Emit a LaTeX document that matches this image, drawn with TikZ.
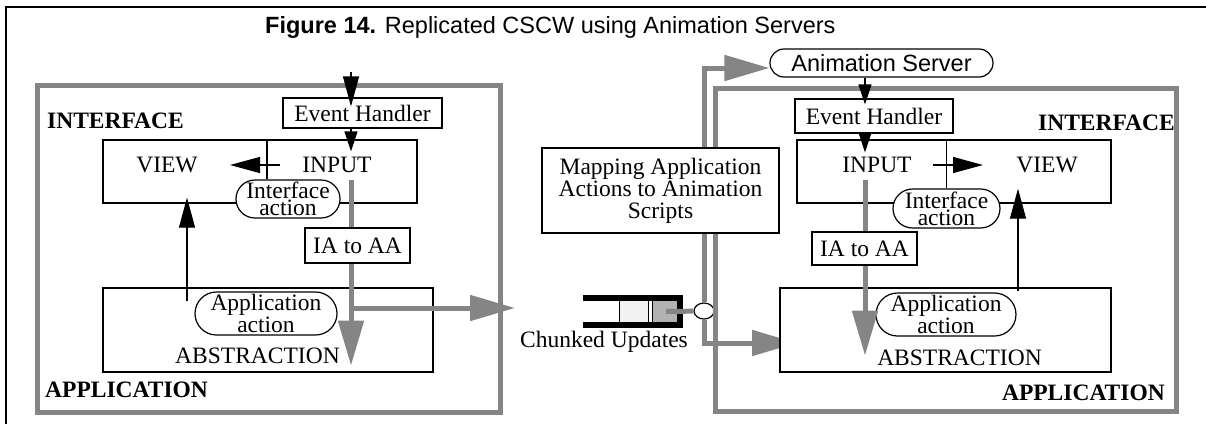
\documentclass[tikz,border=0pt]{standalone}
\usepackage{fontspec}
\setmainfont{Liberation Serif}
\setsansfont{Liberation Sans}
\usetikzlibrary{arrows.meta,calc,shapes.misc,shapes.geometric}
\definecolor{framegray}{RGB}{133,133,133}
\definecolor{celllight}{RGB}{242,242,242}
\definecolor{celldark}{RGB}{178,178,178}

\tikzset{
  txt/.style={font=\fontsize{23.5}{22}\selectfont, inner sep=0pt},
  box/.style={txt, draw, line width=1.2pt, fill=white},
  oval/.style={box, rounded rectangle, align=center, font=\fontsize{23.5}{17}\selectfont},
  heading/.style={txt, font=\fontsize{23.5}{22}\selectfont\bfseries},
  link/.style={line width=1.2pt},
  siteframe/.style={draw=framegray, line width=5pt},
  grayline/.style={draw=framegray, line width=5pt},
  feed/.style={grayline, -{Triangle[length=45pt,width=25pt]}},
  ctrl/.style={link, -{Triangle[length=30pt,width=16pt]}},
  ctrlsmall/.style={link, -{Triangle[length=20pt,width=13pt]}},
}

\begin{document}
\begin{tikzpicture}[x=1pt,y=-1pt]
\useasboundingbox (0,0) rectangle (1206,424);
\draw[link] (6,424) -- (6,7) -- (1206,7);
\node[txt, anchor=base west] (title) at (265,33) {\sffamily\textbf{Figure 14.} Replicated CSCW using Animation Servers};

% columns for the vertical connectors
\coordinate (lcol) at (351,0);
\coordinate (lup) at (187,0);
\coordinate (rcol) at (865,0);
\coordinate (rup) at (1018,0);

% left site
\draw[siteframe] (37,85) rectangle (500,412);
\node[heading, anchor=base west] (lintf) at (47,128) {INTERFACE};
\node[heading, anchor=base west] (lappl) at (45,397) {APPLICATION};
\node[box, minimum width=314pt, minimum height=63pt] (liface) at (260,171.5) {};
\node[txt] (lview) at (167,165) {VIEW};
\node[txt] (lin) at (337,165) {INPUT};
\node[oval, minimum width=104pt, minimum height=38pt] (liact) at (288,199) {Interface\\action};
\draw[link] ([xshift=7pt]liface.north) -- ([xshift=7pt]liface.north |- liact.north);
\node[box, minimum width=159pt, minimum height=30pt] (lev) at (362.5,113) {Event Handler};
\coordinate (ltop) at (351,72);
\draw[ctrl, shorten >=-9pt] (ltop) -- (lev.north -| lcol);
\draw[ctrlsmall, shorten >=-12pt] (lev.south -| lcol) -- (liface.north -| lcol);
\draw[ctrl, shorten <=57pt, shorten >=63pt] (lin.center) -- (lview.center);
\node[box, minimum width=330pt, minimum height=84pt] (labs) at (268,330) {};
\node[oval, minimum width=142pt, minimum height=43pt] (laact) at (266,313.5) {Application\\action};
\node[txt, anchor=base] (labst) at (257.5,363) {ABSTRACTION};
\draw[ctrl, shorten <=-14pt, shorten >=-6pt] (labs.north -| lup) -- (liface.south -| lup);
\coordinate (lgtop) at (351,180);
\node[box, minimum width=105pt, minimum height=35pt] (lia2aa) at (357.5,245.5) {IA to AA};
\draw[grayline] (lgtop) -- (lia2aa.north -| lcol);
\draw[feed, shorten >=7pt] (lia2aa.south -| lcol) -- (labs.south -| lcol);
\coordinate (lgbranch) at (351,308);
\coordinate (lgout) at (515,308);
\draw[feed] (lgbranch) -- (lgout);

% chunked updates buffer
\node[draw, line width=1pt, fill=celllight, minimum width=29pt, minimum height=27pt, inner sep=0pt] (cella) at (633.5,311.5) {};
\node[draw, line width=1pt, fill=celldark, minimum width=28pt, minimum height=27pt, inner sep=0pt] (cellb) at (666,311.5) {};
\draw[line width=6pt] (583,298) -- (680,298) -- (680,325) -- (583,325);
\node[ellipse, draw, link, fill=white, minimum width=20pt, minimum height=16pt, inner sep=0pt] (junc) at (704,311) {};
\draw[grayline] (cellb.center) -- (junc);
\node[txt] (chunk) at (604,342) {Chunked Updates};

% right site
\draw[siteframe] (715,88) rectangle (1176,411);
\node[oval, font=\fontsize{23.5}{17}\selectfont\sffamily, minimum width=223pt, minimum height=28pt] (ranim) at (881.5,63) {Animation Server};
\draw[feed] (junc.north) |- ($(ranim.west)+(0,5)$);
\coordinate (rgin) at (797,343);
\draw[feed] (junc.south) |- (rgin);
\node[box, minimum width=237pt, minimum height=85pt, align=center] (map) at (660.5,190.5) {Mapping Application\\Actions to Animation\\Scripts};

\node[box, minimum width=158pt, minimum height=34pt] (rev) at (874,116) {Event Handler};
\node[box, minimum width=314pt, minimum height=63pt] (riface) at (954,171.5) {};
\node[txt] (rin) at (877,165) {INPUT};
\node[txt] (rview) at (1047,165) {VIEW};
\node[oval, minimum width=107pt, minimum height=39pt] (riact) at (946.5,208.5) {Interface\\action};
\draw[link] (riface.north -| riact) -- (riact.north);
\draw[ctrl, shorten <=56pt, shorten >=64pt] (rin.center) -- (rview.center);
\draw[ctrlsmall, shorten >=-6pt] (ranim.south -| rcol) -- (rev.north -| rcol);
\draw[ctrlsmall, shorten >=-13pt] (rev.south -| rcol) -- (riface.north -| rcol);
\node[heading, anchor=base east] (rintf) at (1175,130) {INTERFACE};
\node[box, minimum width=331pt, minimum height=84pt] (rabs) at (945.5,330) {};
\node[oval, minimum width=140pt, minimum height=43pt] (raact) at (946,314.5) {Application\\action};
\node[txt, anchor=base] (rabst) at (959.5,365) {ABSTRACTION};
\node[heading, anchor=base east] (rappl) at (1165,400) {APPLICATION};
\draw[ctrl, shorten <=-4pt, shorten >=-15pt] (rabs.north -| rup) -- (riface.south -| rup);
\coordinate (rgtop) at (865,180);
\node[box, minimum width=105pt, minimum height=33pt] (ria2aa) at (864.5,248.5) {IA to AA};
\draw[grayline] (rgtop) -- (ria2aa.north -| rcol);
\draw[feed, shorten >=17pt] (ria2aa.south -| rcol) -- (rabs.south -| rcol);
\end{tikzpicture}
\end{document}
